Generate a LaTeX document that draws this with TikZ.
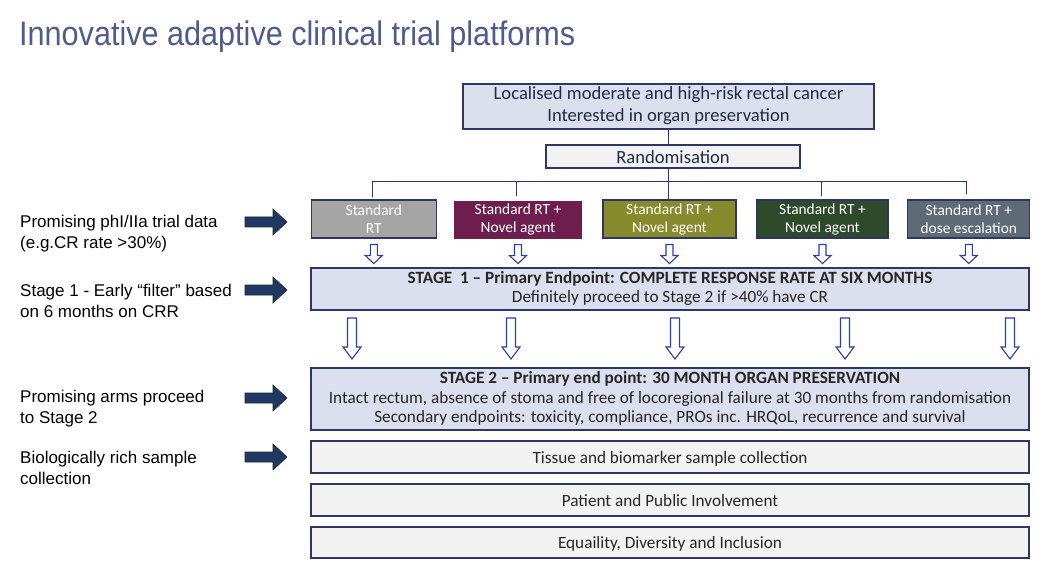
\documentclass[tikz,border=0pt]{standalone}
\usepackage{fontspec}
\setmainfont{Carlito}
\newfontfamily\arialf{Liberation Sans}
\newfontfamily\titlef[FakeStretch=0.9]{Liberation Sans}
\definecolor{titlec}{HTML}{4F5A8E}
\definecolor{lav}{HTML}{DCDFEE}
\definecolor{lgray}{HTML}{F2F2F2}
\definecolor{boxline}{HTML}{2C3766}
\definecolor{txt}{HTML}{262626}
\definecolor{topt}{HTML}{1F2A44}
\definecolor{arrblue}{HTML}{2E3DA8}
\definecolor{navy}{HTML}{1F3864}
\definecolor{armA}{HTML}{A5A5A5}
\definecolor{armB}{HTML}{6D1E4E}
\definecolor{armC}{HTML}{878A2D}
\definecolor{armD}{HTML}{2E4A2A}
\definecolor{armE}{HTML}{5E6A76}
\tikzset{
  box/.style={draw=boxline, line width=1.1pt, inner sep=0pt, align=center, text=txt,
    font=\fontsize{17.2}{19.5}\selectfont},
  strutted/.style={execute at begin node={\rule{0pt}{0.93em}},
    execute at end node={\rule[-0.23em]{0pt}{0pt}}},
  armbox/.style={box, text=white, font=\fontsize{15.4}{18}\selectfont, minimum height=38pt},
  wide/.style={box, strutted, minimum width=718pt},
  lab/.style={anchor=west, align=left, inner sep=0pt, text=black,
    font=\arialf\fontsize{17}{21}\selectfont},
  link/.style={boxline, line width=1.1pt},
  fatarrow/.pic={\draw[fill=navy, draw=black!85, line width=0.6pt]
    (0,-5) -- (28,-5) -- (28,-13) -- (42,0) -- (28,13) -- (28,5) -- (0,5) -- cycle;},
  smallhollow/.pic={\draw[fill=white, draw=arrblue, line width=1.1pt]
    (-3.5,0) -- (3.5,0) -- (3.5,11) -- (8.5,11) -- (0,19) -- (-8.5,11) -- (-3.5,11) -- cycle;},
  longhollow/.pic={\draw[fill=white, draw=arrblue, line width=1.1pt]
    (-4.5,0) -- (4.5,0) -- (4.5,29) -- (9,29) -- (0,41) -- (-9,29) -- (-4.5,29) -- cycle;}
}
\begin{document}
\begin{tikzpicture}[x=1pt,y=-1pt]
\useasboundingbox (0,0) rectangle (1046,585);
\fill[white] (0,0) rectangle (1046,585);

\node[anchor=west, inner sep=0pt, text=titlec, font=\titlef\fontsize{34}{38}\selectfont] (title) at (19,37) {Innovative adaptive clinical trial platforms};

% top
\node[box, strutted, fill=lav, text=topt, font=\fontsize{18.6}{22}\selectfont, minimum width=411pt, minimum height=45pt] (top) at (668.5,106.5) {Localised moderate and high-risk rectal cancer\\Interested in organ preservation};
\node[box, strutted, fill=lgray, text=topt, font=\fontsize{18.6}{20}\selectfont, minimum width=254pt, minimum height=23pt] (rand) at (673,156.5) {Randomisation};

% arms
\node[armbox, fill=armA, minimum width=125pt] (a1) at (373.8,219) {Standard\\RT};
\node[armbox, fill=armB, draw=armB, minimum width=126pt, minimum height=36.5pt] (a2) at (518,219.8) {Standard RT +\\Novel agent};
\node[armbox, fill=armC, minimum width=133pt] (a3) at (669.5,219) {Standard RT +\\Novel agent};
\node[armbox, fill=armD, minimum width=131pt] (a4) at (822.5,219) {Standard RT +\\Novel agent};
\node[armbox, fill=armE, minimum width=122pt] (a5) at (968.8,219) {Standard RT +\\dose escalation};

\draw[link] (top.south) -- (top.south |- rand.north);
\coordinate (bus) at (668.5,181.5);
\draw[link] (top.south |- rand.south) -- (top.south |- a3.north);
\coordinate (d1) at (372.7,197);
\coordinate (d2) at (516.7,196);
\coordinate (d4) at (821.7,196);
\coordinate (d5) at (966.7,194);
\draw[link] (d1 |- bus) -- (d5 |- bus);
\foreach \d in {d1,d2,d4,d5} \draw[link] (\d |- bus) -- (\d);

% stage 1
\node[wide, fill=lav, minimum height=42pt, font=\fontsize{17.2}{19}\selectfont] (s1) at (670,289) {\textbf{STAGE\ \ 1 – Primary Endpoint: COMPLETE RESPONSE RATE AT SIX MONTHS}\\Definitely proceed to Stage 2 if >40\% have CR};
\foreach \a in {a1,a2,a3,a4,a5} \pic at ([yshift=-6pt]\a.south) {smallhollow};

% stage 2
\node[wide, fill=lav, minimum height=62pt] (s2) at (670,399) {\textbf{STAGE 2 – Primary end point: 30 MONTH ORGAN PRESERVATION}\\Intact rectum, absence of stoma and free of locoregional failure at 30 months from randomisation\\Secondary endpoints: toxicity, compliance, PROs inc. HRQoL, recurrence and survival};
\foreach \x in {352,511,675,845,1010} \pic at (\x,318) {longhollow};

% bottom boxes
\node[wide, fill=lgray, minimum height=32pt] (tis) at (670,457) {Tissue and biomarker sample collection};
\node[wide, fill=lgray, minimum height=32pt] (ppi) at (670,500) {Patient and Public Involvement};
\node[wide, fill=lgray, minimum height=31pt] (edi) at (670,542.5) {Equaility, Diversity and Inclusion};

% left labels
\node[lab] (l1) at (20,234) {Promising phI/IIa trial data\\(e.g.CR rate >30\%)};
\node[lab] (l2) at (20,300.5) {Stage 1 - Early “filter” based\\on 6 months on CRR};
\node[lab] (l3) at (20,409) {Promising arms proceed\\to Stage 2};
\node[lab] (l4) at (20,468) {Biologically rich sample\\collection};

\pic at (245,222) {fatarrow};
\pic at (245,290) {fatarrow};
\pic at (245,398) {fatarrow};
\pic at (245,457) {fatarrow};
\end{tikzpicture}
\end{document}
